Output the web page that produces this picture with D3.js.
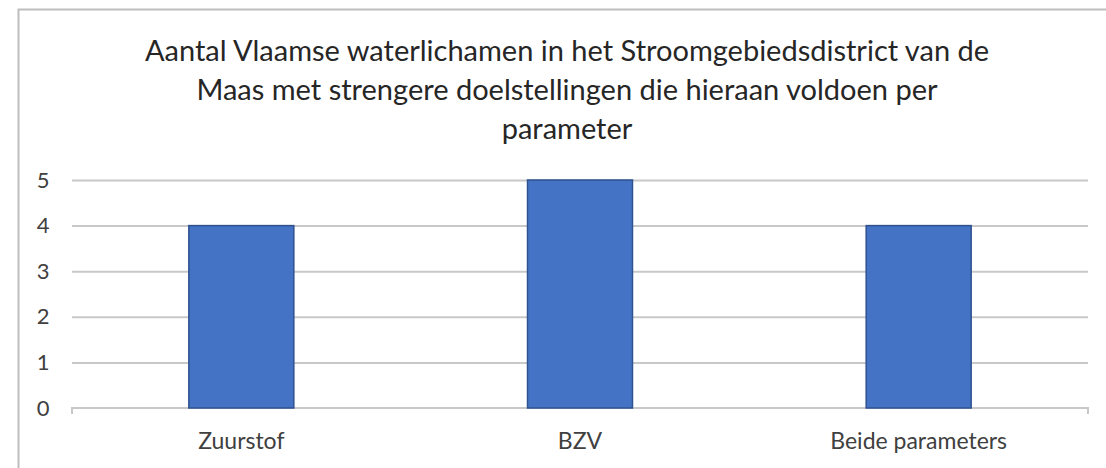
<!DOCTYPE html>
<html>
<head>
<meta charset="utf-8">
<script src="https://cdn.jsdelivr.net/npm/d3@7"></script>
<style>
  body { margin: 0; background: #fff; }
  svg { display: block; }
  text { font-family: Lato, "Open Sans", sans-serif; fill: #404040; }
</style>
</head>
<body>
<svg id="chart" width="1106" height="468"></svg>
<script>
// DATA
const categories = ['Zuurstof', 'BZV', 'Beide parameters'];
const values = [4, 5, 4];
const yTicks = [0, 1, 2, 3, 4, 5];
const titleLines = [
  'Aantal Vlaamse waterlichamen in het Stroomgebiedsdistrict van de',
  'Maas met strengere doelstellingen die hieraan voldoen per',
  'parameter'
];

const svg = d3.select('#chart');

// chart frame (left + top edge visible)
svg.append('path')
  .attr('d', 'M18.5,468 V9.5 H1106')
  .attr('fill', 'none')
  .attr('stroke', '#bdbdbd')
  .attr('stroke-width', 2);

// TITLE
svg.append('g').selectAll('text')
  .data(titleLines)
  .enter().append('text')
  .attr('x', 567)
  .attr('y', (d, i) => 61 + i * 39)
  .attr('text-anchor', 'middle')
  .style('font-size', '29px')
  .style('fill', '#262626')
  .text(d => d);

// SCALES
const plotLeft = 72, plotRight = 1088, plotTop = 180, plotBottom = 408;

const x = d3.scaleBand()
  .domain(categories)
  .range([plotLeft, plotRight])
  .paddingInner(0.69)
  .paddingOuter(0.345);

const y = d3.scaleLinear()
  .domain([0, 5])
  .range([plotBottom, plotTop]);

// GUIDELINES
const guidelines = d3.axisRight(y)
  .tickValues(yTicks.filter(t => t > 0))
  .tickSizeInner(plotRight - plotLeft)
  .tickSizeOuter(0)
  .tickFormat('');

svg.append('g')
  .attr('class', 'grid')
  .attr('transform', `translate(${plotLeft},0)`)
  .call(guidelines)
  .call(g => g.select('.domain').remove())
  .call(g => g.selectAll('line').attr('stroke', '#c8c8c8').attr('stroke-width', 2));

// Y AXIS labels
const yAxis = d3.axisLeft(y)
  .tickValues(yTicks)
  .tickFormat(d3.format('d'))
  .tickSize(0);

svg.append('g')
  .attr('class', 'y axis')
  .attr('transform', `translate(${plotLeft},0)`)
  .call(yAxis)
  .call(g => g.select('.domain').remove())
  .call(g => g.selectAll('text')
    .attr('text-anchor', 'middle')
    .attr('x', -29)
    .style('font-size', '22px')
    .style('font-family', 'Lato, sans-serif')
    .style('fill', '#404040'));

// X AXIS
const xAxis = d3.axisBottom(x)
  .tickSize(0)
  .tickPadding(25);

svg.append('g')
  .attr('class', 'x axis')
  .attr('transform', `translate(0,${plotBottom})`)
  .call(xAxis)
  .call(g => g.select('.domain')
    .attr('d', `M${plotLeft},6V0H${plotRight}V6`)
    .attr('stroke', '#c8c8c8')
    .attr('stroke-width', 2)
    .attr('fill', 'none'))
  .call(g => g.selectAll('text')
    .style('font-size', '23px')
    .style('font-family', 'Lato, sans-serif')
    .style('fill', '#404040'));

// BARS
svg.append('g').selectAll('rect')
  .data(values)
  .enter().append('rect')
  .attr('class', 'bar')
  .attr('x', (d, i) => x(categories[i]))
  .attr('y', d => y(d))
  .attr('width', x.bandwidth())
  .attr('height', d => plotBottom - y(d))
  .style('fill', '#4472C4')
  .style('stroke', '#2F528F')
  .style('stroke-width', 1.5);
</script>
</body>
</html>
